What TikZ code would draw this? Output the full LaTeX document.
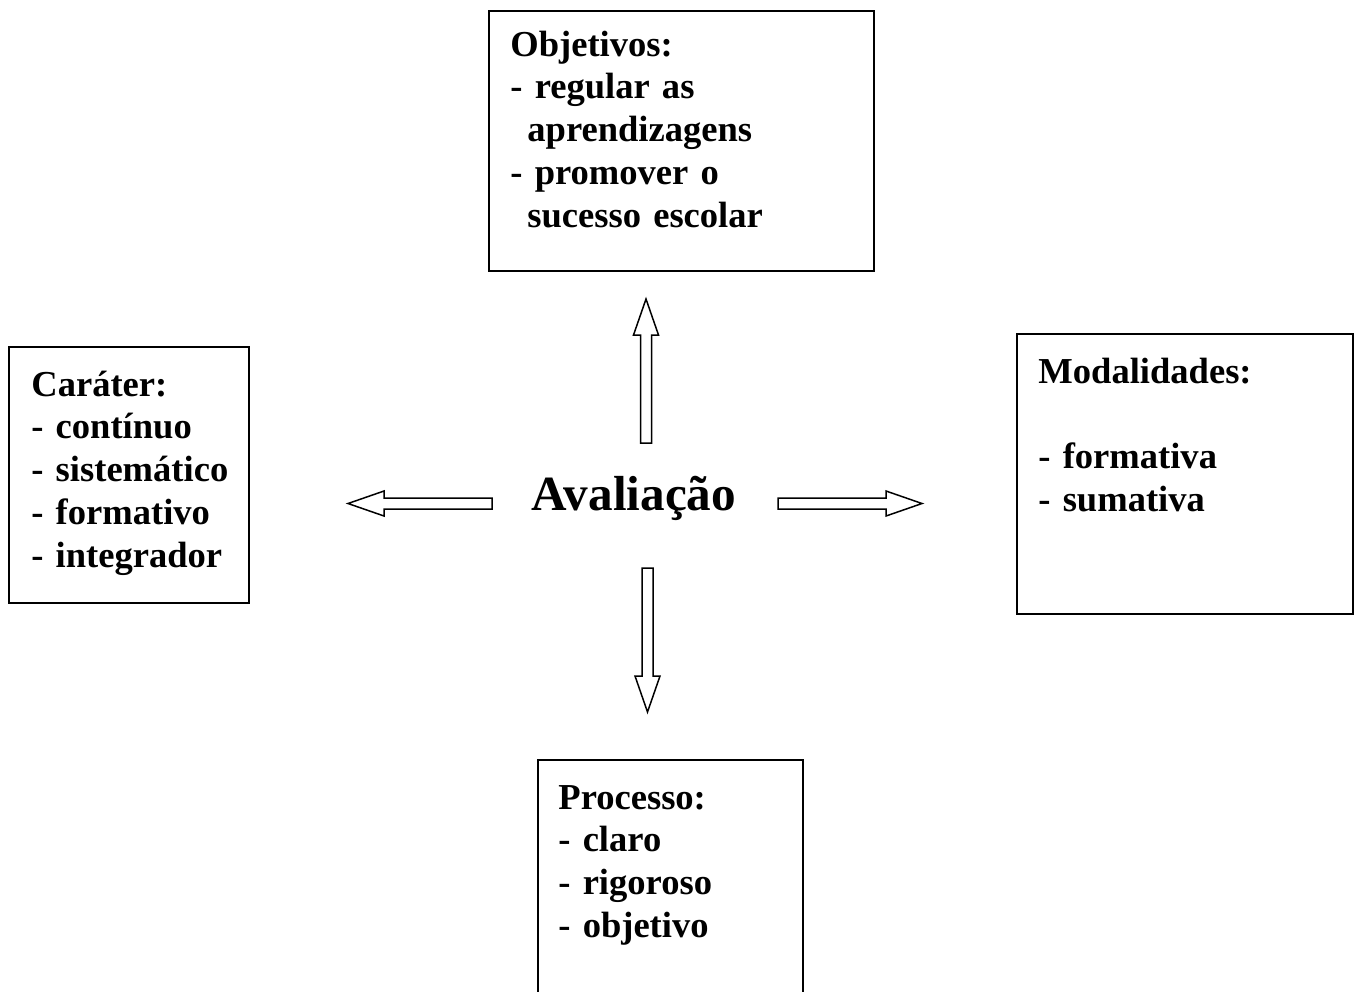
\documentclass[tikz,border=0pt]{standalone}
\usepackage{fontspec}
\setmainfont{Liberation Serif}
\usetikzlibrary{positioning, calc}

\tikzset{
  box/.style={draw=black, line width=1.1pt, inner sep=0pt},
  boxtext/.style={anchor=base west, inner sep=0pt, text width=7cm, align=left,
    font=\fontsize{20.8}{24.4}\selectfont\bfseries},
  hollowarrow/.pic={
    \draw[line width=0.85pt, fill=white] (0,-5.5) -- (108,-5.5) -- (108,-12.5) -- (144,0)
      -- (108,12.5) -- (108,5.5) -- (0,5.5) -- cycle;
  }
}

\begin{document}
\begin{tikzpicture}[x=0.02cm, y=-0.02cm]
  \useasboundingbox (0,0) rectangle (1354,991);

  % Centre
  \node[anchor=base, inner sep=0pt, font=\fontsize{28}{32}\selectfont\bfseries] (aval) at (634,510) {Avaliação};

  % Boxes
  \node[box, minimum width=7.7cm, minimum height=5.2cm] (obj) at (681.5,141) {};
  \node[box, minimum width=4.8cm, minimum height=5.12cm] (car) at (129,475) {};
  \node[box, minimum width=6.72cm, minimum height=5.6cm] (mod) at (1185,474) {};
  \node[box, minimum width=5.3cm, minimum height=4.8cm] (proc) at (670.5,880) {};

  % Texts
  \node[boxtext] (objtxt) at ($(obj.north west)+(22,46)$)
    {Objetivos:\\- regular as\\\hspace*{0.34cm}aprendizagens\\- promover o\\\hspace*{0.34cm}sucesso escolar};
  \node[boxtext] (cartxt) at ($(car.north west)+(23,50)$)
    {Caráter:\\- contínuo\\- sistemático\\- formativo\\- integrador};
  \node[boxtext] (modtxt) at ($(mod.north west)+(22,50)$)
    {Modalidades:\\[24.4pt]- formativa\\- sumativa};
  \node[boxtext] (proctxt) at ($(proc.north west)+(21,50)$)
    {Processo:\\- claro\\- rigoroso\\- objetivo};

  % Arrows
  \pic[rotate=90] at ($(aval.base)+(12,-67)$) {hollowarrow};
  \pic[rotate=180] at ($(aval.base)+(-142,-6.5)$) {hollowarrow};
  \pic at ($(aval.base)+(144,-6.5)$) {hollowarrow};
  \pic[rotate=-90] at ($(aval.base)+(13.5,58)$) {hollowarrow};
\end{tikzpicture}
\end{document}
